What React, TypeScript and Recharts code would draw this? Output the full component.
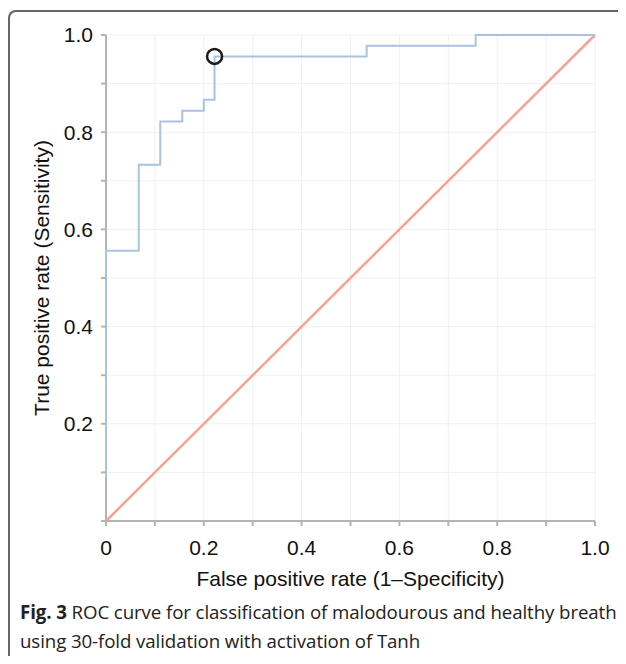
import { LineChart, Line, XAxis, YAxis, CartesianGrid, ReferenceDot } from "recharts";

// ROC operating points (step curve, stepAfter)
const rocFpr = [0, 0, 0.067, 0.111, 0.156, 0.2, 0.222, 0.533, 0.756, 1.0];
const rocTpr = [0.089, 0.556, 0.733, 0.822, 0.844, 0.867, 0.956, 0.978, 1.0, 1.0];

// chance diagonal
const chanceFpr = [0, 1];
const chanceTpr = [0, 1];

// the circled cut-off point
const cutoffFpr = 0.222;
const cutoffTpr = 0.956;

const axisTicks = [0, 0.1, 0.2, 0.3, 0.4, 0.5, 0.6, 0.7, 0.8, 0.9, 1.0];
const xTickLabels = ["0", "", "0.2", "", "0.4", "", "0.6", "", "0.8", "", "1.0"];
const yTickLabels = ["", "", "0.2", "", "0.4", "", "0.6", "", "0.8", "", "1.0"];

const BLUE = "#a9c3e0";
const SALMON = "#f7a391";
const AXIS_GRAY = "#b4b4b4";
const GRID = "#f0f0f0";
const FONT = "'Liberation Sans', Arial, sans-serif";

const rocData = rocFpr.map((x, i) => ({ x, y: rocTpr[i] }));
const chanceData = chanceFpr.map((x, i) => ({ x, y: chanceTpr[i] }));

const labelAt = (labels: string[]) => (v: number) => {
  const i = axisTicks.findIndex((t) => Math.abs(t - v) < 1e-6);
  return i >= 0 ? labels[i] : "";
};

// vertical grid lines; the first one doubles as the y axis line so the
// ROC curve at fpr = 0 is painted on top of it (as in the figure)
const VerticalGridLine = (props: any) => {
  const { x1, y1, x2, y2, index } = props;
  const isAxis = index === 0;
  return (
    <line
      key={props.key}
      x1={x1}
      y1={y1}
      x2={x2}
      y2={y2}
      stroke={isAxis ? AXIS_GRAY : GRID}
      strokeWidth={isAxis ? 2 : 1}
      fill="none"
    />
  );
};

export default function App() {
  return (
    <div
      style={{
        position: "relative",
        width: 626,
        height: 664,
        margin: -8,
        overflow: "hidden",
        background: "#fff",
      }}
    >
      {/* figure frame: top + left rule with rounded corner */}
      <div
        style={{
          position: "absolute",
          left: 8,
          top: 10,
          width: 700,
          height: 700,
          borderTop: "2px solid #666",
          borderLeft: "2px solid #666",
          borderTopLeftRadius: 8,
        }}
      />
      <div style={{ position: "absolute", left: 0, top: 0 }}>
        <LineChart width={626} height={600} margin={{ top: 35, right: 31, left: 0, bottom: 0 }}>
          <CartesianGrid stroke={GRID} strokeWidth={1} vertical={VerticalGridLine} />
          <XAxis
            type="number"
            dataKey="x"
            domain={[0, 1]}
            ticks={axisTicks}
            tickFormatter={labelAt(xTickLabels)}
            height={79}
            tickSize={5}
            tickMargin={14}
            stroke={AXIS_GRAY}
            strokeWidth={2}
            tick={{ fill: "#111", fontSize: 21, fontFamily: FONT }}
            label={{
              value: "False positive rate (1–Specificity)",
              position: "insideBottom",
              offset: 14,
              style: { fill: "#111", fontSize: 21, fontFamily: FONT },
            }}
          />
          <YAxis
            type="number"
            dataKey="y"
            domain={[0, 1]}
            ticks={axisTicks}
            tickFormatter={labelAt(yTickLabels)}
            width={106}
            tickSize={5}
            tickMargin={8}
            axisLine={false}
            tickLine={{ stroke: AXIS_GRAY, strokeWidth: 2 }}
            tick={{ fill: "#111", fontSize: 21, fontFamily: FONT }}
            label={{
              value: "True positive rate (Sensitivity)",
              angle: -90,
              position: "insideLeft",
              offset: 42,
              style: { fill: "#111", fontSize: 21, fontFamily: FONT, textAnchor: "middle" },
            }}
          />
          <Line
            data={chanceData}
            dataKey="y"
            type="linear"
            stroke={SALMON}
            strokeWidth={2.5}
            dot={false}
            isAnimationActive={false}
          />
          <Line
            data={rocData}
            dataKey="y"
            type="stepAfter"
            stroke={BLUE}
            strokeWidth={2}
            dot={false}
            isAnimationActive={false}
          />
          <ReferenceDot
            x={cutoffFpr}
            y={cutoffTpr}
            r={7.5}
            fill="none"
            stroke="#1a1a1a"
            strokeWidth={2.5}
          />
        </LineChart>
      </div>
      <div
        style={{
          position: "absolute",
          left: 20,
          top: 597,
          fontFamily: "'Open Sans', sans-serif",
          fontSize: 18.7,
          lineHeight: "29px",
          letterSpacing: -0.1,
          color: "#222",
          whiteSpace: "nowrap",
        }}
      >
        <div>
          <b>Fig. 3</b> ROC curve for classification of malodourous and healthy breath
        </div>
        <div>using 30-fold validation with activation of Tanh</div>
      </div>
    </div>
  );
}
